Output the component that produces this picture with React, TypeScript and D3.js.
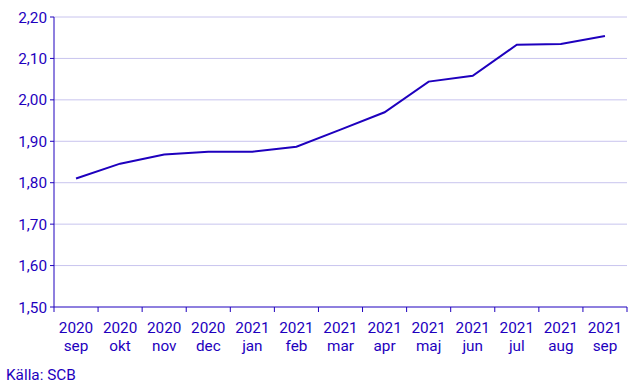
import * as d3 from "d3";

const years = ["2020", "2020", "2020", "2020", "2021", "2021", "2021", "2021", "2021", "2021", "2021", "2021", "2021"];
const months = ["sep", "okt", "nov", "dec", "jan", "feb", "mar", "apr", "maj", "jun", "jul", "aug", "sep"];
const values = [1.81, 1.846, 1.868, 1.875, 1.875, 1.887, 1.928, 1.97, 2.044, 2.058, 2.133, 2.135, 2.154];
const yTicks = [1.5, 1.6, 1.7, 1.8, 1.9, 2.0, 2.1, 2.2];

const W = 643;
const H = 386;
const blue = "#1e00be";
const font = "Roboto, 'Liberation Sans', sans-serif";

export default function App() {
    const left = 54, right = 627, top = 17, bottom = 307;
    const keys = months.map((m, i) => `${i}`);

    const x = d3.scaleBand<string>().domain(keys).range([left, right]);
    const y = d3.scaleLinear().domain([1.5, 2.2]).range([bottom, top]);
    const fmt = (v: number) => v.toFixed(2).replace(".", ",");

    const line = d3.line<number>()
        .x((_, i) => x(keys[i])! + x.bandwidth() / 2)
        .y(d => y(d));

    return (
        <svg width={W} height={H} style={{ position: "absolute", left: 0, top: 0 }} fontFamily={font}>
            {yTicks.slice(1).map(t => (
                <line key={t} x1={left} x2={right} y1={y(t)} y2={y(t)} stroke="#c8c4ee" strokeWidth={1} />
            ))}
            {yTicks.map(t => (
                <g key={"l" + t}>
                    <line x1={left - 4} x2={left} y1={y(t)} y2={y(t)} stroke={blue} />
                    <text x={left - 7} y={y(t)} dy="0.36em" textAnchor="end" fontSize={15.3} fill={blue}>{fmt(t)}</text>
                </g>
            ))}
            <line x1={left} x2={left} y1={top} y2={bottom} stroke={blue} />
            <line x1={left} x2={right} y1={bottom} y2={bottom} stroke={blue} />
            {keys.concat(["end"]).map((k, i) => {
                const xx = i < keys.length ? x(k)! : right;
                return <line key={"t" + i} x1={xx} x2={xx} y1={bottom} y2={bottom + 5} stroke={blue} />;
            })}
            {keys.map((k, i) => (
                <text key={"x" + i} x={x(k)! + x.bandwidth() / 2} textAnchor="middle" fontSize={15.3} fill={blue}>
                    <tspan x={x(k)! + x.bandwidth() / 2} y={333}>{years[i]}</tspan>
                    <tspan x={x(k)! + x.bandwidth() / 2} y={351}>{months[i]}</tspan>
                </text>
            ))}
            <path d={line(values)!} fill="none" stroke={blue} strokeWidth={2} />
            <text x={6} y={380} fontSize={15.3} fill={blue}>Källa: SCB</text>
        </svg>
    );
}
